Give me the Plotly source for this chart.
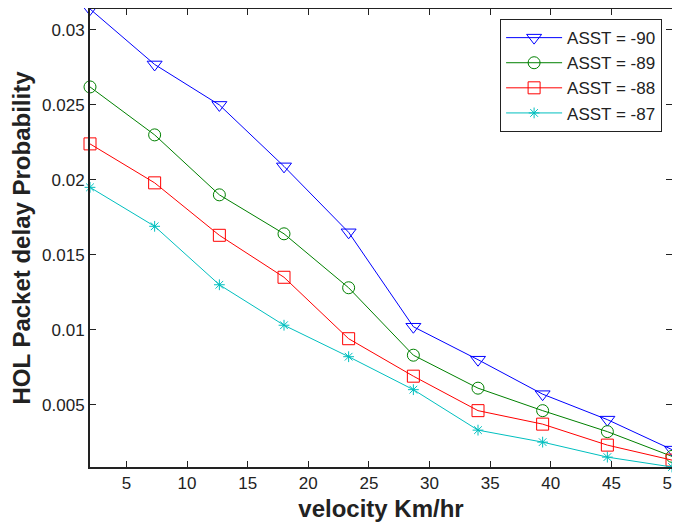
import numpy as np
import plotly.graph_objects as go

# velocity samples (km/hr)
velocity = [2, 7.33, 12.67, 18, 23.33, 28.67, 34, 39.33, 44.67, 50]

# HOL packet delay probability for each ASST threshold
asst_90 = [0.0314, 0.0277, 0.0250, 0.0209, 0.0165, 0.0102, 0.0080, 0.0057, 0.0040, 0.0020]
asst_89 = [0.0262, 0.0230, 0.0190, 0.0164, 0.0128, 0.0083, 0.0061, 0.0046, 0.0032, 0.00155]
asst_88 = [0.0224, 0.0198, 0.0163, 0.0135, 0.0094, 0.0069, 0.0046, 0.0037, 0.0023, 0.0013]
asst_87 = [0.0195, 0.0169, 0.0130, 0.0103, 0.0082, 0.0060, 0.0033, 0.0025, 0.0015, 0.00084]

series = [
    ('ASST = -90', asst_90, '#0000ff', 'triangle-down-open', 13),
    ('ASST = -89', asst_89, '#008000', 'circle-open', 12),
    ('ASST = -88', asst_88, '#ff0000', 'square-open', 12),
    ('ASST = -87', asst_87, '#00bfbf', 'asterisk-open', 9),
]

fig = go.Figure()
for name, ys, color, symbol, size in series:
    fig.add_trace(go.Scatter(
        x=velocity, y=ys, name=name, mode='lines+markers',
        line=dict(color=color, width=1),
        marker=dict(symbol=symbol, size=size, color=color, line=dict(color=color, width=1)),
        cliponaxis=False,
    ))

axis_common = dict(
    showline=True, linecolor='#222', linewidth=2, mirror='ticks',
    ticks='inside', ticklen=6, tickcolor='#222', showgrid=False, zeroline=False,
    tickfont=dict(size=17, color='#222'), automargin=False,
    ticklabeloverflow='allow',
)

# page body adds an 8px offset, so the figure is sized/margined to compensate
fig.update_layout(
    width=680, height=514,
    paper_bgcolor='white', plot_bgcolor='white',
    font=dict(family='Liberation Sans, Arial, sans-serif', color='#222'),
    margin=dict(l=82, r=16, t=1, b=55),
    xaxis=dict(range=[2, 50], tickvals=list(range(5, 55, 5)),
               title=dict(text='<b>velocity Km/hr</b>', font=dict(size=24), standoff=8),
               **axis_common),
    yaxis=dict(range=[0.00084, 0.0314], tickvals=[0.005, 0.01, 0.015, 0.02, 0.025, 0.03],
               ticktext=['0.005', '0.01', '0.015', '0.02', '0.025', '0.03'],
               title=dict(text='<b>HOL Packet delay Probability</b>', font=dict(size=24), standoff=18),
               **axis_common),
    legend=dict(x=0.983, y=0.978, xanchor='right', yanchor='top',
                bgcolor='white', bordercolor='#222', borderwidth=1,
                font=dict(size=17), itemwidth=56, tracegroupgap=0),
    showlegend=True,
)

fig.write_html("out.html")
